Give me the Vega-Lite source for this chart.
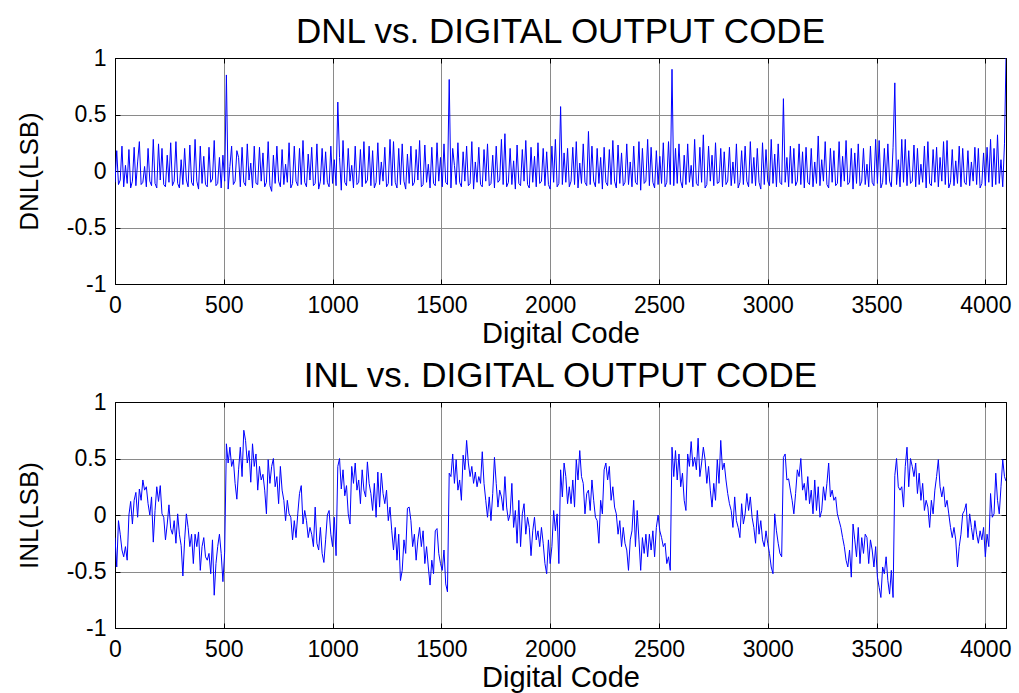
{
"$schema":"https://vega.github.io/schema/vega-lite/v6.json",
"background":"white",
"padding":{"left":15,"top":14,"right":12,"bottom":0},
"spacing":9,
"config":{
"font":"Liberation Sans",
"view":{"stroke":"black","strokeWidth":1},
"axis":{"labelFont":"Liberation Sans","labelFontSize":23,"labelColor":"black","titleFont":"Liberation Sans","titleFontWeight":"normal","titleColor":"black","domainColor":"black","tickColor":"black","tickSize":-5,"tickWidth":1,"gridColor":"#8a8a8a","gridWidth":1,"gridOpacity":1,"labelFlush":false,"labelOverlap":false},
"title":{"font":"Liberation Sans","fontSize":35,"fontWeight":"normal","color":"black","anchor":"middle"}
},
"data":{"values":[
{"c":0,"d":-0.10,"i":-0.20},{"c":8,"d":0.18,"i":-0.46},{"c":16,"d":-0.12,"i":-0.05},{"c":24,"d":-0.08,"i":-0.17},{"c":32,"d":0.22,"i":-0.31},{"c":40,"d":-0.14,"i":-0.37},{"c":48,"d":0.05,"i":-0.28},{"c":56,"d":-0.11,"i":-0.40},{"c":64,"d":0.19,"i":0.00},{"c":72,"d":-0.15,"i":0.12},{"c":80,"d":-0.09,"i":-0.08},{"c":88,"d":0.21,"i":0.13},{"c":96,"d":-0.13,"i":0.20},{"c":104,"d":0.08,"i":-0.02},{"c":112,"d":0.26,"i":0.23},{"c":120,"d":-0.12,"i":0.13},{"c":128,"d":-0.10,"i":0.31},{"c":136,"d":0.04,"i":0.22},{"c":144,"d":-0.14,"i":0.25},{"c":152,"d":0.20,"i":0.10},{"c":160,"d":-0.09,"i":0.00},{"c":168,"d":-0.13,"i":0.16},{"c":176,"d":0.28,"i":-0.24},{"c":184,"d":-0.11,"i":0.04},{"c":192,"d":-0.15,"i":0.25},{"c":200,"d":0.24,"i":0.12},{"c":208,"d":-0.08,"i":0.26},{"c":216,"d":0.20,"i":0.01},{"c":224,"d":-0.12,"i":-0.02},{"c":232,"d":-0.14,"i":-0.22},{"c":240,"d":0.14,"i":-0.08},{"c":248,"d":-0.10,"i":0.09},{"c":256,"d":0.25,"i":-0.12},{"c":264,"d":-0.13,"i":-0.17},{"c":272,"d":-0.09,"i":-0.05},{"c":280,"d":0.26,"i":-0.25},{"c":288,"d":-0.11,"i":0.01},{"c":296,"d":-0.15,"i":-0.17},{"c":304,"d":0.10,"i":-0.27},{"c":312,"d":-0.12,"i":-0.54},{"c":320,"d":0.20,"i":-0.22},{"c":328,"d":-0.08,"i":0.01},{"c":336,"d":-0.14,"i":-0.11},{"c":344,"d":0.23,"i":-0.28},{"c":352,"d":-0.10,"i":-0.17},{"c":360,"d":-0.13,"i":-0.43},{"c":368,"d":0.28,"i":-0.17},{"c":376,"d":-0.09,"i":-0.28},{"c":384,"d":-0.16,"i":-0.15},{"c":392,"d":0.22,"i":-0.49},{"c":400,"d":-0.11,"i":-0.28},{"c":408,"d":0.13,"i":-0.20},{"c":416,"d":-0.12,"i":-0.37},{"c":424,"d":-0.14,"i":-0.40},{"c":432,"d":0.21,"i":-0.34},{"c":440,"d":-0.10,"i":-0.52},{"c":448,"d":-0.07,"i":-0.22},{"c":456,"d":0.27,"i":-0.71},{"c":464,"d":-0.13,"i":-0.43},{"c":472,"d":-0.11,"i":-0.28},{"c":480,"d":0.12,"i":-0.17},{"c":488,"d":-0.15,"i":-0.34},{"c":496,"d":0.14,"i":-0.59},{"c":504,"d":-0.09,"i":-0.33},
{"c":512,"d":0.85,"i":0.63},{"c":520,"d":-0.16,"i":0.46},{"c":528,"d":0.04,"i":0.60},{"c":536,"d":0.22,"i":0.43},{"c":544,"d":-0.12,"i":0.49},{"c":552,"d":-0.09,"i":0.28},{"c":560,"d":0.18,"i":0.14},{"c":568,"d":0.12,"i":0.40},{"c":576,"d":-0.14,"i":0.60},{"c":584,"d":0.21,"i":0.34},{"c":592,"d":-0.10,"i":0.75},{"c":600,"d":-0.13,"i":0.66},{"c":608,"d":0.24,"i":0.46},{"c":616,"d":-0.08,"i":0.57},{"c":624,"d":0.07,"i":0.29},{"c":632,"d":-0.15,"i":0.63},{"c":640,"d":0.22,"i":0.43},{"c":648,"d":-0.11,"i":0.54},{"c":656,"d":-0.12,"i":0.22},{"c":664,"d":0.21,"i":0.43},{"c":672,"d":-0.09,"i":0.31},{"c":680,"d":0.16,"i":0.36},{"c":688,"d":-0.14,"i":0.22},{"c":696,"d":-0.10,"i":0.01},{"c":704,"d":0.26,"i":0.49},{"c":712,"d":-0.13,"i":0.28},{"c":720,"d":-0.18,"i":0.43},{"c":728,"d":0.14,"i":0.50},{"c":736,"d":-0.11,"i":0.25},{"c":744,"d":0.22,"i":0.34},{"c":752,"d":-0.09,"i":0.10},{"c":760,"d":-0.14,"i":0.43},{"c":768,"d":0.19,"i":0.22},{"c":776,"d":-0.12,"i":0.13},{"c":784,"d":0.06,"i":-0.05},{"c":792,"d":-0.10,"i":0.13},{"c":800,"d":0.25,"i":0.01},{"c":808,"d":-0.15,"i":-0.02},{"c":816,"d":-0.11,"i":-0.22},{"c":824,"d":0.22,"i":-0.05},{"c":832,"d":-0.09,"i":-0.20},{"c":840,"d":-0.13,"i":0.01},{"c":848,"d":0.20,"i":0.19},{"c":856,"d":-0.12,"i":0.26},{"c":864,"d":0.27,"i":-0.08},{"c":872,"d":-0.10,"i":0.04},{"c":880,"d":-0.14,"i":-0.05},{"c":888,"d":0.15,"i":-0.20},{"c":896,"d":-0.08,"i":-0.11},{"c":904,"d":0.21,"i":-0.17},{"c":912,"d":-0.13,"i":-0.28},{"c":920,"d":-0.11,"i":0.07},{"c":928,"d":0.24,"i":-0.25},{"c":936,"d":-0.16,"i":-0.31},{"c":944,"d":-0.09,"i":-0.11},{"c":952,"d":0.20,"i":-0.34},{"c":960,"d":-0.12,"i":-0.42},{"c":968,"d":0.17,"i":-0.22},{"c":976,"d":-0.10,"i":0.00},{"c":984,"d":-0.14,"i":0.04},{"c":992,"d":0.22,"i":-0.17},{"c":1000,"d":-0.11,"i":-0.28},{"c":1008,"d":0.10,"i":-0.02},{"c":1016,"d":-0.13,"i":-0.36},
{"c":1024,"d":0.61,"i":0.43},{"c":1032,"d":0.12,"i":0.50},{"c":1040,"d":-0.17,"i":0.23},{"c":1048,"d":0.27,"i":0.40},{"c":1056,"d":-0.10,"i":0.17},{"c":1064,"d":-0.13,"i":0.26},{"c":1072,"d":0.20,"i":0.01},{"c":1080,"d":-0.09,"i":-0.08},{"c":1088,"d":0.05,"i":0.43},{"c":1096,"d":-0.15,"i":0.28},{"c":1104,"d":0.22,"i":0.46},{"c":1112,"d":-0.12,"i":0.22},{"c":1120,"d":-0.10,"i":0.31},{"c":1128,"d":0.19,"i":0.10},{"c":1136,"d":-0.14,"i":0.40},{"c":1144,"d":0.26,"i":0.22},{"c":1152,"d":-0.11,"i":0.16},{"c":1160,"d":-0.08,"i":0.47},{"c":1168,"d":0.22,"i":0.28},{"c":1176,"d":-0.13,"i":0.19},{"c":1184,"d":0.18,"i":0.04},{"c":1192,"d":-0.15,"i":0.28},{"c":1200,"d":-0.10,"i":-0.02},{"c":1208,"d":0.25,"i":0.38},{"c":1216,"d":-0.12,"i":0.07},{"c":1224,"d":0.08,"i":0.37},{"c":1232,"d":-0.09,"i":0.19},{"c":1240,"d":0.21,"i":0.10},{"c":1248,"d":-0.14,"i":0.22},{"c":1256,"d":-0.11,"i":-0.05},{"c":1264,"d":0.28,"i":0.07},{"c":1272,"d":-0.13,"i":-0.14},{"c":1280,"d":0.26,"i":-0.31},{"c":1288,"d":-0.10,"i":-0.11},{"c":1296,"d":-0.15,"i":-0.40},{"c":1304,"d":0.20,"i":-0.17},{"c":1312,"d":-0.12,"i":-0.58},{"c":1320,"d":0.24,"i":-0.49},{"c":1328,"d":-0.09,"i":-0.22},{"c":1336,"d":-0.16,"i":-0.34},{"c":1344,"d":0.15,"i":0.06},{"c":1352,"d":-0.11,"i":0.07},{"c":1360,"d":0.22,"i":-0.05},{"c":1368,"d":-0.13,"i":-0.28},{"c":1376,"d":-0.10,"i":-0.17},{"c":1384,"d":0.19,"i":-0.40},{"c":1392,"d":-0.08,"i":-0.22},{"c":1400,"d":0.27,"i":-0.11},{"c":1408,"d":-0.14,"i":-0.28},{"c":1416,"d":-0.12,"i":-0.14},{"c":1424,"d":0.23,"i":-0.43},{"c":1432,"d":-0.10,"i":-0.28},{"c":1440,"d":0.06,"i":-0.46},{"c":1448,"d":-0.15,"i":-0.62},{"c":1456,"d":0.21,"i":-0.40},{"c":1464,"d":-0.11,"i":-0.52},{"c":1472,"d":-0.13,"i":-0.14},{"c":1480,"d":0.25,"i":-0.12},{"c":1488,"d":-0.09,"i":-0.34},{"c":1496,"d":0.12,"i":-0.43},{"c":1504,"d":-0.14,"i":-0.49},{"c":1512,"d":0.24,"i":-0.31},{"c":1520,"d":-0.10,"i":-0.61},{"c":1528,"d":-0.12,"i":-0.68},
{"c":1536,"d":0.81,"i":0.37},{"c":1544,"d":-0.15,"i":0.34},{"c":1552,"d":0.20,"i":0.54},{"c":1560,"d":0.05,"i":0.28},{"c":1568,"d":-0.12,"i":0.49},{"c":1576,"d":0.25,"i":0.22},{"c":1584,"d":-0.10,"i":0.31},{"c":1592,"d":-0.14,"i":0.13},{"c":1600,"d":0.17,"i":0.53},{"c":1608,"d":-0.09,"i":0.40},{"c":1616,"d":0.22,"i":0.66},{"c":1624,"d":-0.13,"i":0.46},{"c":1632,"d":-0.11,"i":0.34},{"c":1640,"d":0.26,"i":0.43},{"c":1648,"d":-0.16,"i":0.28},{"c":1656,"d":0.08,"i":0.38},{"c":1664,"d":-0.10,"i":0.25},{"c":1672,"d":0.21,"i":0.34},{"c":1680,"d":-0.12,"i":0.28},{"c":1688,"d":-0.14,"i":0.56},{"c":1696,"d":0.19,"i":0.28},{"c":1704,"d":-0.09,"i":0.13},{"c":1712,"d":0.24,"i":-0.02},{"c":1720,"d":-0.13,"i":0.16},{"c":1728,"d":-0.11,"i":-0.05},{"c":1736,"d":0.14,"i":0.19},{"c":1744,"d":-0.15,"i":0.51},{"c":1752,"d":0.22,"i":0.28},{"c":1760,"d":-0.10,"i":0.07},{"c":1768,"d":-0.08,"i":0.22},{"c":1776,"d":0.28,"i":0.16},{"c":1784,"d":-0.12,"i":0.04},{"c":1792,"d":0.33,"i":0.34},{"c":1800,"d":-0.14,"i":0.07},{"c":1808,"d":-0.10,"i":-0.05},{"c":1816,"d":0.20,"i":0.01},{"c":1824,"d":-0.12,"i":0.28},{"c":1832,"d":0.09,"i":-0.11},{"c":1840,"d":-0.16,"i":0.04},{"c":1848,"d":0.23,"i":-0.25},{"c":1856,"d":-0.11,"i":0.13},{"c":1864,"d":-0.13,"i":-0.28},{"c":1872,"d":0.19,"i":0.01},{"c":1880,"d":-0.09,"i":0.10},{"c":1888,"d":0.27,"i":-0.17},{"c":1896,"d":-0.12,"i":-0.02},{"c":1904,"d":-0.15,"i":-0.11},{"c":1912,"d":0.21,"i":-0.36},{"c":1920,"d":-0.10,"i":-0.14},{"c":1928,"d":0.13,"i":-0.02},{"c":1936,"d":-0.14,"i":-0.22},{"c":1944,"d":0.25,"i":-0.14},{"c":1952,"d":-0.11,"i":-0.28},{"c":1960,"d":-0.09,"i":-0.11},{"c":1968,"d":0.20,"i":-0.25},{"c":1976,"d":-0.13,"i":-0.43},{"c":1984,"d":0.17,"i":-0.52},{"c":1992,"d":-0.12,"i":-0.22},{"c":2000,"d":-0.16,"i":-0.43},{"c":2008,"d":0.22,"i":-0.28},{"c":2016,"d":-0.10,"i":0.04},{"c":2024,"d":0.28,"i":-0.14},{"c":2032,"d":-0.14,"i":0.01},{"c":2040,"d":-0.11,"i":-0.43},
{"c":2048,"d":0.57,"i":0.40},{"c":2056,"d":-0.12,"i":0.16},{"c":2064,"d":0.16,"i":0.46},{"c":2072,"d":-0.10,"i":0.34},{"c":2080,"d":0.20,"i":0.10},{"c":2088,"d":-0.14,"i":0.25},{"c":2096,"d":-0.09,"i":0.10},{"c":2104,"d":0.21,"i":0.31},{"c":2112,"d":-0.12,"i":0.07},{"c":2120,"d":0.26,"i":0.49},{"c":2128,"d":-0.15,"i":0.31},{"c":2136,"d":0.07,"i":0.57},{"c":2144,"d":-0.11,"i":0.34},{"c":2152,"d":0.24,"i":0.28},{"c":2160,"d":-0.10,"i":0.01},{"c":2168,"d":-0.13,"i":0.19},{"c":2176,"d":0.35,"i":0.22},{"c":2184,"d":-0.12,"i":0.04},{"c":2192,"d":0.22,"i":0.31},{"c":2200,"d":-0.09,"i":0.13},{"c":2208,"d":-0.14,"i":-0.02},{"c":2216,"d":0.20,"i":-0.05},{"c":2224,"d":-0.11,"i":-0.25},{"c":2232,"d":0.12,"i":0.13},{"c":2240,"d":-0.16,"i":0.01},{"c":2248,"d":0.21,"i":0.40},{"c":2256,"d":-0.10,"i":0.46},{"c":2264,"d":-0.13,"i":0.31},{"c":2272,"d":0.19,"i":0.43},{"c":2280,"d":-0.12,"i":0.13},{"c":2288,"d":0.27,"i":0.25},{"c":2296,"d":-0.09,"i":0.07},{"c":2304,"d":-0.15,"i":0.01},{"c":2312,"d":0.23,"i":-0.17},{"c":2320,"d":-0.11,"i":-0.05},{"c":2328,"d":0.16,"i":-0.28},{"c":2336,"d":-0.13,"i":-0.11},{"c":2344,"d":-0.10,"i":-0.25},{"c":2352,"d":0.24,"i":-0.31},{"c":2360,"d":-0.12,"i":-0.49},{"c":2368,"d":0.08,"i":-0.22},{"c":2376,"d":-0.14,"i":-0.14},{"c":2384,"d":0.22,"i":0.13},{"c":2392,"d":-0.10,"i":-0.28},{"c":2400,"d":-0.12,"i":0.04},{"c":2408,"d":0.26,"i":-0.22},{"c":2416,"d":-0.17,"i":-0.49},{"c":2424,"d":0.20,"i":-0.20},{"c":2432,"d":-0.11,"i":-0.34},{"c":2440,"d":-0.09,"i":-0.17},{"c":2448,"d":0.28,"i":-0.37},{"c":2456,"d":-0.13,"i":-0.17},{"c":2464,"d":0.21,"i":-0.31},{"c":2472,"d":-0.10,"i":-0.14},{"c":2480,"d":-0.15,"i":-0.37},{"c":2488,"d":0.18,"i":-0.11},{"c":2496,"d":-0.12,"i":0.00},{"c":2504,"d":0.13,"i":-0.14},{"c":2512,"d":-0.11,"i":-0.20},{"c":2520,"d":0.25,"i":-0.28},{"c":2528,"d":-0.14,"i":-0.25},{"c":2536,"d":-0.10,"i":-0.43},{"c":2544,"d":0.26,"i":-0.37},{"c":2552,"d":-0.12,"i":-0.49},
{"c":2560,"d":0.90,"i":0.60},{"c":2568,"d":-0.13,"i":0.34},{"c":2576,"d":0.20,"i":0.57},{"c":2584,"d":-0.11,"i":0.31},{"c":2592,"d":0.24,"i":0.54},{"c":2600,"d":-0.09,"i":0.25},{"c":2608,"d":-0.15,"i":0.37},{"c":2616,"d":0.14,"i":0.13},{"c":2624,"d":-0.12,"i":0.04},{"c":2632,"d":0.24,"i":0.54},{"c":2640,"d":-0.10,"i":0.43},{"c":2648,"d":0.05,"i":0.65},{"c":2656,"d":-0.14,"i":0.43},{"c":2664,"d":0.28,"i":0.51},{"c":2672,"d":-0.11,"i":0.40},{"c":2680,"d":-0.13,"i":0.68},{"c":2688,"d":0.21,"i":0.34},{"c":2696,"d":-0.10,"i":0.46},{"c":2704,"d":0.32,"i":0.60},{"c":2712,"d":-0.15,"i":0.49},{"c":2720,"d":-0.12,"i":0.28},{"c":2728,"d":0.22,"i":0.43},{"c":2736,"d":-0.09,"i":0.22},{"c":2744,"d":0.14,"i":0.07},{"c":2752,"d":-0.13,"i":0.28},{"c":2760,"d":0.25,"i":0.13},{"c":2768,"d":-0.11,"i":0.49},{"c":2776,"d":-0.10,"i":0.28},{"c":2784,"d":0.20,"i":0.66},{"c":2792,"d":-0.14,"i":0.40},{"c":2800,"d":0.17,"i":0.46},{"c":2808,"d":-0.12,"i":0.31},{"c":2816,"d":-0.09,"i":0.19},{"c":2824,"d":0.21,"i":0.10},{"c":2832,"d":-0.13,"i":0.04},{"c":2840,"d":0.08,"i":-0.11},{"c":2848,"d":-0.11,"i":0.16},{"c":2856,"d":0.24,"i":-0.05},{"c":2864,"d":-0.15,"i":-0.11},{"c":2872,"d":-0.10,"i":-0.20},{"c":2880,"d":0.18,"i":0.10},{"c":2888,"d":-0.12,"i":-0.08},{"c":2896,"d":0.22,"i":0.01},{"c":2904,"d":-0.09,"i":0.19},{"c":2912,"d":-0.14,"i":0.04},{"c":2920,"d":0.26,"i":0.16},{"c":2928,"d":-0.11,"i":-0.02},{"c":2936,"d":0.12,"i":-0.11},{"c":2944,"d":-0.13,"i":-0.25},{"c":2952,"d":0.20,"i":0.04},{"c":2960,"d":-0.10,"i":-0.17},{"c":2968,"d":-0.16,"i":-0.05},{"c":2976,"d":0.25,"i":-0.22},{"c":2984,"d":-0.12,"i":-0.28},{"c":2992,"d":0.19,"i":-0.14},{"c":3000,"d":-0.09,"i":-0.25},{"c":3008,"d":-0.13,"i":-0.34},{"c":3016,"d":0.28,"i":-0.46},{"c":3024,"d":-0.11,"i":-0.52},{"c":3032,"d":0.15,"i":0.01},{"c":3040,"d":-0.14,"i":-0.14},{"c":3048,"d":0.24,"i":-0.25},{"c":3056,"d":-0.10,"i":-0.34},{"c":3064,"d":-0.12,"i":-0.37},
{"c":3072,"d":0.64,"i":0.51},{"c":3080,"d":-0.10,"i":0.54},{"c":3088,"d":0.12,"i":0.31},{"c":3096,"d":-0.14,"i":0.32},{"c":3104,"d":0.22,"i":0.22},{"c":3112,"d":-0.11,"i":0.13},{"c":3120,"d":0.20,"i":0.01},{"c":3128,"d":-0.13,"i":0.19},{"c":3136,"d":-0.09,"i":0.40},{"c":3144,"d":0.24,"i":0.34},{"c":3152,"d":-0.12,"i":0.50},{"c":3160,"d":0.17,"i":0.22},{"c":3168,"d":-0.15,"i":0.28},{"c":3176,"d":0.21,"i":0.13},{"c":3184,"d":-0.10,"i":0.34},{"c":3192,"d":-0.12,"i":0.10},{"c":3200,"d":0.20,"i":0.22},{"c":3208,"d":-0.14,"i":0.01},{"c":3216,"d":0.08,"i":0.31},{"c":3224,"d":-0.11,"i":0.04},{"c":3232,"d":0.31,"i":0.25},{"c":3240,"d":-0.13,"i":-0.02},{"c":3248,"d":0.10,"i":0.04},{"c":3256,"d":-0.09,"i":0.25},{"c":3264,"d":0.26,"i":0.13},{"c":3272,"d":-0.12,"i":0.28},{"c":3280,"d":-0.15,"i":0.46},{"c":3288,"d":0.20,"i":0.16},{"c":3296,"d":-0.10,"i":0.22},{"c":3304,"d":0.18,"i":0.13},{"c":3312,"d":-0.13,"i":0.16},{"c":3320,"d":-0.11,"i":0.01},{"c":3328,"d":0.26,"i":-0.05},{"c":3336,"d":-0.14,"i":-0.11},{"c":3344,"d":0.13,"i":-0.20},{"c":3352,"d":-0.09,"i":-0.28},{"c":3360,"d":0.27,"i":-0.40},{"c":3368,"d":-0.12,"i":-0.46},{"c":3376,"d":-0.10,"i":-0.31},{"c":3384,"d":0.20,"i":-0.55},{"c":3392,"d":-0.16,"i":-0.08},{"c":3400,"d":0.16,"i":-0.22},{"c":3408,"d":-0.11,"i":-0.37},{"c":3416,"d":0.24,"i":-0.11},{"c":3424,"d":-0.13,"i":-0.43},{"c":3432,"d":-0.09,"i":-0.20},{"c":3440,"d":0.20,"i":-0.34},{"c":3448,"d":-0.12,"i":-0.17},{"c":3456,"d":0.06,"i":-0.20},{"c":3464,"d":-0.14,"i":-0.43},{"c":3472,"d":0.22,"i":-0.22},{"c":3480,"d":-0.10,"i":-0.31},{"c":3488,"d":-0.13,"i":-0.46},{"c":3496,"d":0.28,"i":-0.28},{"c":3504,"d":-0.11,"i":-0.55},{"c":3512,"d":0.27,"i":-0.64},{"c":3520,"d":-0.15,"i":-0.73},{"c":3528,"d":-0.10,"i":-0.46},{"c":3536,"d":0.20,"i":-0.52},{"c":3544,"d":-0.12,"i":-0.37},{"c":3552,"d":0.24,"i":-0.58},{"c":3560,"d":-0.09,"i":-0.70},{"c":3568,"d":-0.14,"i":-0.49},{"c":3576,"d":0.21,"i":-0.73},
{"c":3584,"d":0.78,"i":0.35},{"c":3592,"d":-0.12,"i":0.50},{"c":3600,"d":0.10,"i":0.25},{"c":3608,"d":-0.14,"i":0.22},{"c":3616,"d":0.28,"i":0.25},{"c":3624,"d":-0.10,"i":0.07},{"c":3632,"d":0.28,"i":0.43},{"c":3640,"d":-0.13,"i":0.60},{"c":3648,"d":0.18,"i":0.25},{"c":3656,"d":-0.11,"i":0.50},{"c":3664,"d":-0.09,"i":0.43},{"c":3672,"d":0.23,"i":0.34},{"c":3680,"d":-0.14,"i":0.46},{"c":3688,"d":0.20,"i":0.19},{"c":3696,"d":-0.12,"i":0.37},{"c":3704,"d":0.06,"i":0.13},{"c":3712,"d":-0.10,"i":0.28},{"c":3720,"d":0.22,"i":0.04},{"c":3728,"d":-0.15,"i":0.13},{"c":3736,"d":0.26,"i":0.07},{"c":3744,"d":-0.11,"i":-0.11},{"c":3752,"d":-0.13,"i":0.13},{"c":3760,"d":0.19,"i":0.01},{"c":3768,"d":-0.10,"i":0.22},{"c":3776,"d":0.21,"i":0.34},{"c":3784,"d":-0.14,"i":0.49},{"c":3792,"d":0.12,"i":0.25},{"c":3800,"d":-0.09,"i":0.16},{"c":3808,"d":0.26,"i":0.25},{"c":3816,"d":-0.12,"i":0.07},{"c":3824,"d":0.27,"i":0.13},{"c":3832,"d":-0.15,"i":0.01},{"c":3840,"d":-0.10,"i":-0.11},{"c":3848,"d":0.19,"i":-0.20},{"c":3856,"d":-0.13,"i":-0.11},{"c":3864,"d":0.09,"i":-0.22},{"c":3872,"d":-0.11,"i":-0.46},{"c":3880,"d":0.22,"i":-0.28},{"c":3888,"d":-0.14,"i":-0.17},{"c":3896,"d":0.20,"i":0.01},{"c":3904,"d":-0.10,"i":0.04},{"c":3912,"d":-0.12,"i":0.10},{"c":3920,"d":0.18,"i":-0.20},{"c":3928,"d":-0.13,"i":0.01},{"c":3936,"d":0.08,"i":-0.11},{"c":3944,"d":-0.09,"i":-0.22},{"c":3952,"d":0.21,"i":-0.05},{"c":3960,"d":-0.12,"i":-0.17},{"c":3968,"d":0.20,"i":-0.25},{"c":3976,"d":-0.15,"i":-0.14},{"c":3984,"d":-0.11,"i":-0.22},{"c":3992,"d":0.16,"i":-0.11},{"c":4000,"d":-0.13,"i":-0.37},{"c":4008,"d":0.21,"i":-0.17},{"c":4016,"d":-0.10,"i":-0.28},{"c":4024,"d":0.28,"i":0.19},{"c":4032,"d":-0.14,"i":-0.02},{"c":4040,"d":0.20,"i":0.01},{"c":4048,"d":-0.12,"i":0.37},{"c":4056,"d":0.32,"i":0.13},{"c":4064,"d":-0.11,"i":0.01},{"c":4072,"d":0.10,"i":0.25},{"c":4080,"d":-0.14,"i":0.49},{"c":4088,"d":0.24,"i":0.34},{"c":4095,"d":1.0,"i":0.30}
]},
"vconcat":[
{
"title":{"text":"DNL vs. DIGITAL OUTPUT CODE","offset":-3},
"width":891,"height":226,
"layer":[
{"mark":{"type":"line","color":"#0000ff","strokeWidth":1,"clip":true},
"encoding":{
"x":{"field":"c","type":"quantitative","scale":{"domain":[0,4095],"nice":false,"zero":false},"axis":{"values":[0,500,1000,1500,2000,2500,3000,3500,4000],"format":"d","title":"Digital Code","titleFontSize":29,"labelPadding":15,"titlePadding":2,"grid":true}},
"y":{"field":"d","type":"quantitative","scale":{"domain":[-1,1],"nice":false},"axis":{"values":[-1,-0.5,0,0.5,1],"format":"~g","title":"DNL(LSB)","titleFontSize":26,"labelPadding":14,"titlePadding":24,"labelExpr":"replace(datum.label, '−', '-')","grid":true}}
}},
{"mark":{"type":"line","strokeOpacity":0},
"encoding":{
"x":{"field":"c","type":"quantitative","scale":{"domain":[0,4095],"nice":false,"zero":false},"axis":{"orient":"top","values":[0,500,1000,1500,2000,2500,3000,3500,4000],"labels":false,"title":null,"grid":false}},
"y":{"field":"d","type":"quantitative","scale":{"domain":[-1,1],"nice":false},"axis":{"orient":"right","values":[-1,-0.5,0,0.5,1],"labels":false,"title":null,"grid":false}}
}}
],
"resolve":{"axis":{"x":"independent","y":"independent"}}
},
{
"title":{"text":"INL vs. DIGITAL OUTPUT CODE","offset":-3},
"width":891,"height":226,
"layer":[
{"mark":{"type":"line","color":"#0000ff","strokeWidth":1,"clip":true},
"encoding":{
"x":{"field":"c","type":"quantitative","scale":{"domain":[0,4095],"nice":false,"zero":false},"axis":{"values":[0,500,1000,1500,2000,2500,3000,3500,4000],"format":"d","title":"Digital Code","titleFontSize":29,"labelPadding":15,"titlePadding":2,"grid":true}},
"y":{"field":"i","type":"quantitative","scale":{"domain":[-1,1],"nice":false},"axis":{"values":[-1,-0.5,0,0.5,1],"format":"~g","title":"INL(LSB)","titleFontSize":26,"labelPadding":14,"titlePadding":24,"labelExpr":"replace(datum.label, '−', '-')","grid":true}}
}},
{"mark":{"type":"line","strokeOpacity":0},
"encoding":{
"x":{"field":"c","type":"quantitative","scale":{"domain":[0,4095],"nice":false,"zero":false},"axis":{"orient":"top","values":[0,500,1000,1500,2000,2500,3000,3500,4000],"labels":false,"title":null,"grid":false}},
"y":{"field":"i","type":"quantitative","scale":{"domain":[-1,1],"nice":false},"axis":{"orient":"right","values":[-1,-0.5,0,0.5,1],"labels":false,"title":null,"grid":false}}
}}
],
"resolve":{"axis":{"x":"independent","y":"independent"}}
}
]
}
